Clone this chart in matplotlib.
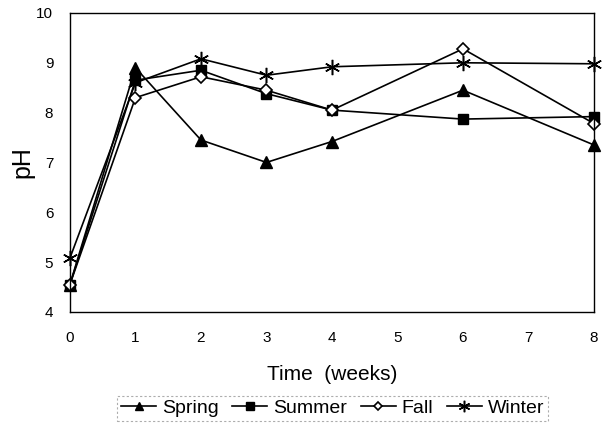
import numpy as np
import matplotlib
matplotlib.use("Agg")
import matplotlib.pyplot as plt

plt.rcParams['font.family'] = ['Liberation Sans', 'DejaVu Sans']

weeks = [0, 1, 2, 3, 4, 6, 8]
spring = [4.55, 8.9, 7.45, 7.0, 7.42, 8.45, 7.35]
summer = [4.55, 8.65, 8.85, 8.38, 8.05, 7.87, 7.92]
fall = [4.55, 8.3, 8.72, 8.45, 8.05, 9.28, 7.78]
winter = [5.08, 8.6, 9.08, 8.75, 8.92, 9.0, 8.98]

fig = plt.figure(figsize=(6.08, 4.32), dpi=100)
ax = fig.add_axes([0.115, 0.278, 0.862, 0.692])

ax.plot(weeks, spring, '-', color='black', lw=1.2, marker='^', ms=8,
        mfc='black', mec='black', label='Spring', clip_on=False)
ax.plot(weeks, summer, '-', color='black', lw=1.2, marker='s', ms=7,
        mfc='black', mec='black', label='Summer', clip_on=False)
ax.plot(weeks, fall, '-', color='black', lw=1.2, marker='D', ms=6,
        mfc='white', mec='black', mew=1.2, label='Fall', clip_on=False)
ax.plot(weeks, winter, '-', color='black', lw=1.2, marker=(6, 2, 0), ms=11,
        mec='black', mew=1.1, label='Winter', clip_on=False)

ax.set_xlim(0, 8)
ax.set_ylim(4, 10)
ax.set_xticks(range(0, 9))
ax.set_yticks(range(4, 11))
ax.tick_params(length=0, labelsize=11)
ax.tick_params(axis='x', pad=14)
ax.tick_params(axis='y', pad=12)
for s in ax.spines.values():
    s.set_linewidth(1.0)

ax.set_xlabel('Time  (weeks)', fontsize=15, labelpad=14)
ax.set_ylabel('pH', fontsize=18, labelpad=1)

leg = fig.legend(loc='center', bbox_to_anchor=(0.547, 0.055), ncol=4,
                 frameon=True, fontsize=14, handlelength=1.8,
                 handletextpad=0.3, columnspacing=0.7, borderpad=0.2,
                 fancybox=False, markerscale=0.75)
leg.get_frame().set_edgecolor('#999999')
leg.get_frame().set_linestyle((0, (2, 2)))
leg.get_frame().set_linewidth(0.8)

fig.savefig('out.png', dpi=100)
